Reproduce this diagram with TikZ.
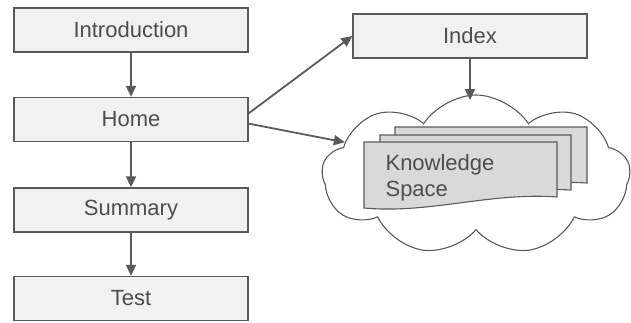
\documentclass[tikz,border=0pt]{standalone}
\usepackage{fontspec}
\setmainfont{Liberation Sans}
\usepackage{tikz}
\usetikzlibrary{arrows.meta,shapes.symbols}

\definecolor{linegray}{HTML}{5A5A5A}
\definecolor{boxfill}{HTML}{F1F1F1}
\definecolor{pagefill}{HTML}{D9D9D9}
\definecolor{textgray}{HTML}{4D4D4D}

\tikzset{
  stage/.style={draw=linegray, line width=1.3pt, fill=boxfill, minimum width=234pt, minimum height=44pt, text=textgray, font=\fontsize{22}{26}\selectfont},
  link/.style={draw=linegray, line width=1.8pt, -{Triangle[length=11pt,width=10pt]}},
  page/.style={draw=linegray, line width=1.1pt, fill=pagefill}
}

\begin{document}
\begin{tikzpicture}[x=1pt, y=-1pt]
      \useasboundingbox (0,0) rectangle (631,322);
      \node[name=cloud, cloud, cloud puffs=9, cloud puff arc=115, aspect=1.9, draw=linegray, line width=1.1pt, fill=white, minimum width=308pt, minimum height=160pt] at (476,175){};
      \filldraw[page](395,127) -- (587,127) -- (587,183) .. controls (540,180) and (500,190) .. (395,190) -- cycle;
      \filldraw[page](380,135) -- (571,135) -- (571,190) .. controls (520,187) and (480,198) .. (380,198) -- cycle;
      \filldraw[page](364,142) -- (557,142) -- (557,197) .. controls (490,192) and (430,214) .. (364,208) -- cycle;
      \node[name=ks, align=left, text=textgray, font=\fontsize{22}{26}\selectfont] at (440,178){Knowledge\\Space};
      \node[name=intro, stage] at (131,30){Introduction};
      \node[name=home, stage] at (131,119.5){Home};
      \node[name=summary, stage] at (131,210){Summary};
      \node[name=test, stage] at (131,298.5){Test};
      \node[name=index, stage] at (470,36){Index};
      \coordinate (cloudtop) at (470,100);
      \draw[link](intro) -- (home);
      \draw[link](home) -- (summary);
      \draw[link](summary) -- (test);
      \draw[link](home.3) -- (index.west);
      \draw[link](home.-2) -- (cloud.166);
      \draw[link](index.south) -- (cloudtop);
   \end{tikzpicture}
\end{document}
